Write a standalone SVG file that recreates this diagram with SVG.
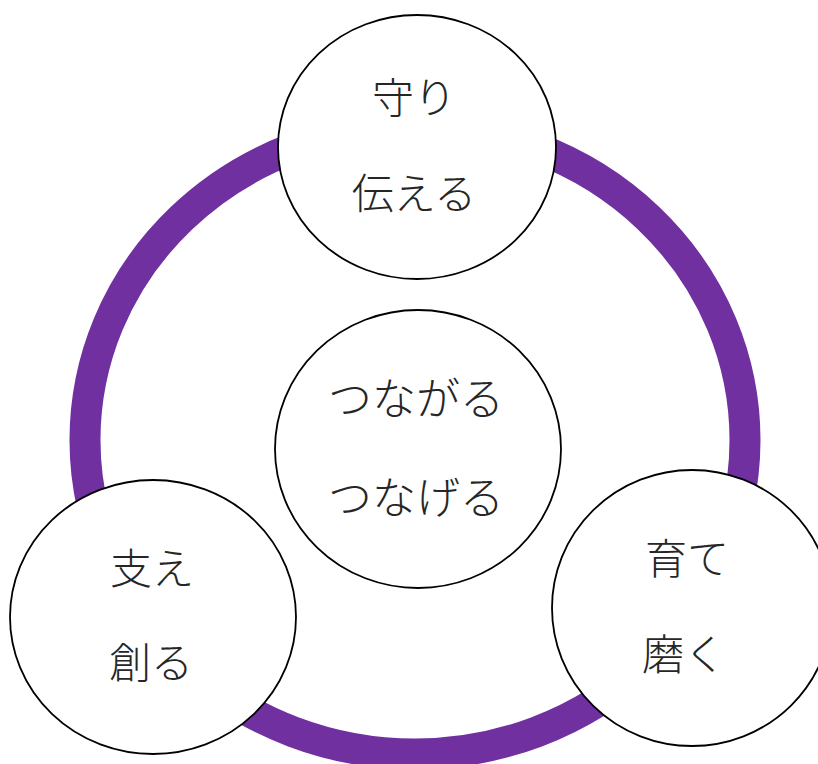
<svg xmlns="http://www.w3.org/2000/svg" width="818" height="764" viewBox="0 0 818 764">
<style>
.node{fill:#ffffff;stroke:#000000;stroke-width:1.8}
.ring{fill:none;stroke:#7030A0;stroke-width:31}
.t{font-family:"Noto Sans CJK JP","Noto Sans CJK SC",sans-serif;font-weight:200;fill:#262626;text-anchor:middle}
.o{font-size:42px}
.c{font-size:44px}
</style>
<rect width="818" height="764" fill="#ffffff"/>
<g id="connectors">
<ellipse class="ring" cx="415" cy="440" rx="330" ry="314"/>
</g>
<g id="node-top">
<ellipse class="node" cx="417" cy="147" rx="139" ry="132"/>
<text class="t o" x="414" y="113">守り</text>
<text class="t o" x="414" y="209">伝える</text>
</g>
<g id="node-center">
<ellipse class="node" cx="418" cy="449" rx="143" ry="139"/>
<text class="t c" x="416" y="415">つながる</text>
<text class="t c" x="416" y="514">つなげる</text>
</g>
<g id="node-left">
<ellipse class="node" cx="153" cy="617" rx="143" ry="137"/>
<text class="t o" x="152" y="584">支え</text>
<text class="t o" x="151" y="678">創る</text>
</g>
<g id="node-right">
<ellipse class="node" cx="692" cy="608" rx="140" ry="138"/>
<text class="t o" x="687" y="574">育て</text>
<text class="t o" x="684" y="670">磨く</text>
</g>
</svg>
